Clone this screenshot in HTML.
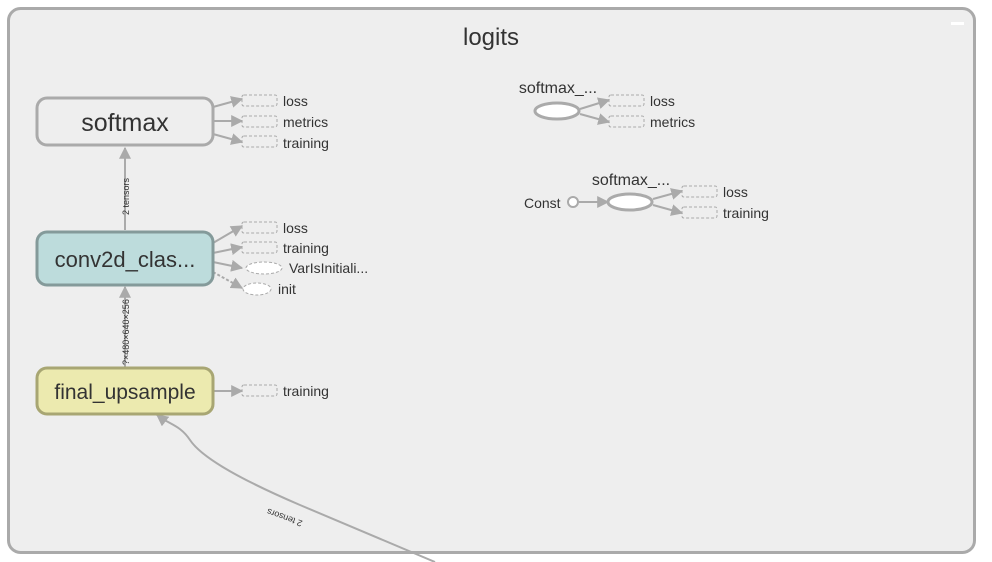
<!DOCTYPE html>
<html><head><meta charset="utf-8"><style>
html,body{margin:0;padding:0;background:#fff;width:992px;height:562px;overflow:hidden}
text{font-family:"Liberation Sans",sans-serif;fill:#333}
</style></head><body>
<svg width="992" height="562" viewBox="0 0 992 562" xmlns="http://www.w3.org/2000/svg">
<defs>
<marker id="a" viewBox="0 0 10 10" refX="9" refY="5" markerWidth="6" markerHeight="6" orient="auto"><path d="M0,0L10,5L0,10z" fill="#aaa"/></marker>
</defs>
<rect x="8.5" y="8.5" width="966" height="544" rx="12" fill="#eee" stroke="#aaa" stroke-width="3"/>
<rect x="951" y="22" width="13" height="3" fill="#fff"/>
<text x="491" y="45" font-size="24" text-anchor="middle">logits</text>
<g stroke="#aaa" stroke-width="2" fill="none">
<line x1="125" y1="230" x2="125" y2="148" marker-end="url(#a)"/>
<line x1="125" y1="367" x2="125" y2="287" marker-end="url(#a)"/>
<path d="M435,562 L300,505 C230,475 200,455 190,440 C180,425 170,425 157,415" marker-end="url(#a)"/>
<line x1="213" y1="107" x2="242" y2="99" marker-end="url(#a)"/>
<line x1="213" y1="121" x2="242" y2="121" marker-end="url(#a)"/>
<line x1="213" y1="134" x2="242" y2="142" marker-end="url(#a)"/>
<line x1="213" y1="243" x2="242" y2="226" marker-end="url(#a)"/>
<line x1="213" y1="253" x2="242" y2="247" marker-end="url(#a)"/>
<line x1="213" y1="262" x2="242" y2="268" marker-end="url(#a)"/>
<line x1="213" y1="272" x2="242" y2="288" stroke-dasharray="3,2" marker-end="url(#a)"/>
<line x1="213" y1="391" x2="242" y2="391" marker-end="url(#a)"/>
<line x1="580" y1="109" x2="609" y2="100" marker-end="url(#a)"/>
<line x1="580" y1="114" x2="609" y2="122" marker-end="url(#a)"/>
<line x1="579" y1="202" x2="608" y2="202" marker-end="url(#a)"/>
<line x1="653" y1="199" x2="682" y2="191" marker-end="url(#a)"/>
<line x1="653" y1="205" x2="682" y2="213" marker-end="url(#a)"/>
</g>
<rect x="37" y="98" width="176" height="47" rx="10" fill="#eee" stroke="#aaa" stroke-width="3"/>
<text x="125" y="131" font-size="25" text-anchor="middle">softmax</text>
<rect x="37" y="232" width="176" height="53" rx="10" fill="#bddcdc" stroke="#849a9a" stroke-width="3"/>
<text x="125" y="267" font-size="22" text-anchor="middle">conv2d_clas...</text>
<rect x="37" y="368" width="176" height="46" rx="10" fill="#eceaaf" stroke="#a8a673" stroke-width="3"/>
<text x="125" y="399" font-size="21" text-anchor="middle">final_upsample</text>
<g fill="none" stroke="#aaa" stroke-dasharray="3,2" stroke-width="1">
<rect x="242" y="95" width="35" height="11" rx="2"/>
<rect x="242" y="116" width="35" height="11" rx="2"/>
<rect x="242" y="136" width="35" height="11" rx="2"/>
<rect x="242" y="222" width="35" height="11" rx="2"/>
<rect x="242" y="242" width="35" height="11" rx="2"/>
<rect x="242" y="385" width="35" height="11" rx="2"/>
<rect x="609" y="95" width="35" height="11" rx="2"/>
<rect x="609" y="116" width="35" height="11" rx="2"/>
<rect x="682" y="186" width="35" height="11" rx="2"/>
<rect x="682" y="207" width="35" height="11" rx="2"/>
<ellipse cx="264" cy="268" rx="18" ry="6" fill="#fff"/>
<ellipse cx="257" cy="289" rx="14" ry="6" fill="#fff"/>
</g>
<g font-size="14">
<text x="283" y="106">loss</text><text x="283" y="127">metrics</text><text x="283" y="148">training</text>
<text x="283" y="233">loss</text><text x="283" y="253">training</text>
<text x="289" y="273">VarIsInitiali...</text><text x="278" y="294">init</text>
<text x="283" y="396">training</text>
<text x="650" y="106">loss</text><text x="650" y="127">metrics</text>
<text x="723" y="197">loss</text><text x="723" y="218">training</text>
<text x="524" y="208">Const</text>
</g>
<text x="558" y="93" font-size="16" text-anchor="middle">softmax_...</text>
<text x="631" y="185" font-size="16" text-anchor="middle">softmax_...</text>
<ellipse cx="557" cy="111" rx="22" ry="8" fill="#fff" stroke="#aaa" stroke-width="3"/>
<ellipse cx="630" cy="202" rx="22" ry="8" fill="#fff" stroke="#aaa" stroke-width="3"/>
<circle cx="573" cy="202" r="5" fill="#fff" stroke="#aaa" stroke-width="2"/>
<text font-size="9" fill="#666" transform="translate(129,215) rotate(-90)">2 tensors</text>
<text font-size="9" fill="#666" transform="translate(129,365) rotate(-90)">?×480×640×256</text>
<text font-size="9" fill="#666" transform="translate(303,521) rotate(200)">2 tensors</text>
</svg>
</body></html>
